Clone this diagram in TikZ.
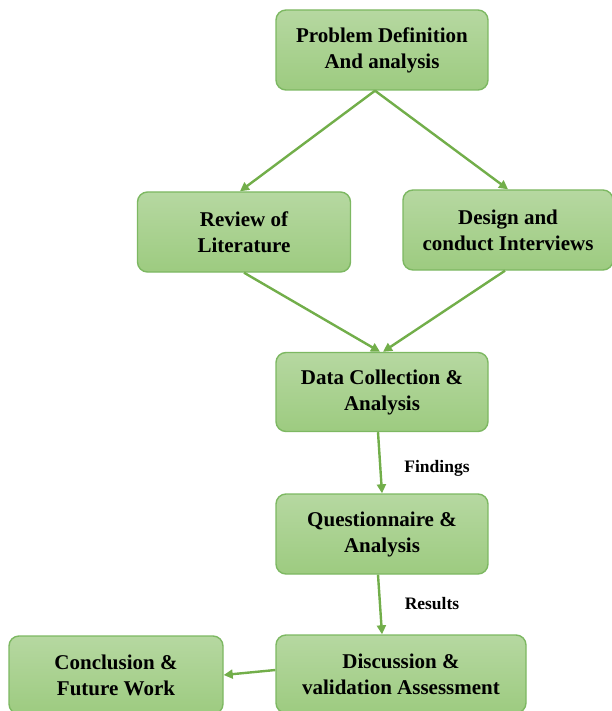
\documentclass[tikz,border=0pt]{standalone}
\usepackage{fontspec}
\setmainfont{Liberation Serif}
\usetikzlibrary{arrows.meta}

\definecolor{boxtop}{HTML}{B6D8A1}
\definecolor{boxbot}{HTML}{9DCB80}
\definecolor{boxline}{HTML}{7DB862}
\definecolor{arrowgreen}{HTML}{72AE4A}

\tikzset{
  stagebox/.style={draw=boxline, line width=1.4pt, rounded corners=10pt,
    top color=boxtop, bottom color=boxbot, align=center,
    font=\fontsize{21}{26}\selectfont\bfseries, inner sep=0pt},
  flow/.style={draw=arrowgreen, line width=2.4pt,
    -{Triangle[length=9pt,width=9pt]}},
  flowlabel/.style={font=\fontsize{17.5}{20}\selectfont\bfseries}
}

\begin{document}
\begin{tikzpicture}[x=1pt,y=-1pt]
  \useasboundingbox (0,0) rectangle (611,711);
  % Stages
  \node[stagebox, minimum width=212, minimum height=80] (prob) at (382, 50) {Problem Definition\\And analysis};
  \node[stagebox, minimum width=213, minimum height=80] (rev) at (244, 232) {Review of\\Literature};
  \node[stagebox, minimum width=210, minimum height=80] (des) at (508, 230) {Design and\\conduct Interviews};
  \node[stagebox, minimum width=212, minimum height=79] (data) at (382, 392) {Data Collection \&\\Analysis};
  \node[stagebox, minimum width=212, minimum height=80] (ques) at (382, 534) {Questionnaire \&\\Analysis};
  \node[stagebox, minimum width=250, minimum height=78] (disc) at (401, 674) {Discussion \&\\validation Assessment};
  \node[stagebox, minimum width=214, minimum height=78] (concl) at (116, 675) {Conclusion \&\\Future Work};

  % Labels
  \node[flowlabel] (find) at (437, 468) {Findings};
  \node[flowlabel] (res) at (432, 604) {Results};

  % Connectors
  \draw[flow] ([xshift=-7]prob.south) -- ([xshift=-4]rev.north);
  \draw[flow] ([xshift=-7]prob.south) -- (des.north);
  \draw[flow] (rev.south) -- ([xshift=-2]data.north);
  \draw[flow] ([xshift=-3]des.south) -- ([xshift=1]data.north);
  \draw[flow] ([xshift=-4]data.south) -- (ques.north);
  \draw[flow] ([xshift=-4]ques.south) -- ([xshift=-19]disc.north);
  \draw[flow] ([yshift=4]disc.west) -- (concl.east);
\end{tikzpicture}
\end{document}
